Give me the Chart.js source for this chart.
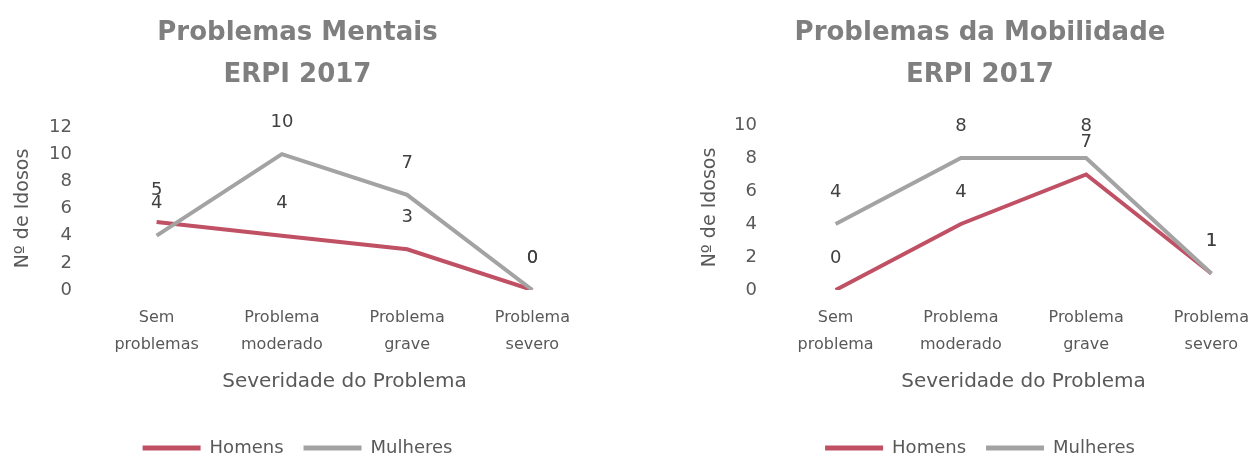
<!DOCTYPE html>
<html>
<head>
<meta charset="utf-8">
<script src="https://cdn.jsdelivr.net/npm/chart.js@4.4.1/dist/chart.umd.min.js"></script>
<style>
  html, body { margin: 0; padding: 0; background: #fff; }
  body { position: relative; width: 1255px; height: 457px; overflow: hidden; }
  canvas { position: absolute; top: 0; }
</style>
</head>
<body>
<canvas id="mentais" width="620" height="467" style="left:0px"></canvas>
<canvas id="mobilidade" width="620" height="467" style="left:686px"></canvas>
<script>
// Categorias (cada rótulo em duas linhas)
const categoriasMentais = [['Sem', 'problemas'], ['Problema', 'moderado'], ['Problema', 'grave'], ['Problema', 'severo']];
const categoriasMobilidade = [['Sem', 'problema'], ['Problema', 'moderado'], ['Problema', 'grave'], ['Problema', 'severo']];

// Número de idosos por severidade
const homensMentais = [5, 4, 3, 0];
const mulheresMentais = [4, 10, 7, 0];
const homensMobilidade = [0, 4, 7, 1];
const mulheresMobilidade = [4, 8, 8, 1];

// Eixo Y
const yMaxMentais = 12;
const yMaxMobilidade = 10;
const yPasso = 2;

const tituloMentais = ['Problemas Mentais', 'ERPI 2017'];
const tituloMobilidade = ['Problemas da Mobilidade', 'ERPI 2017'];
const tituloEixoX = 'Severidade do Problema';
const tituloEixoY = 'Nº de Idosos';
const nomesSeries = ['Homens', 'Mulheres'];

const COR_HOMENS = '#c05064';
const COR_MULHERES = '#a3a3a3';
const COR_TEXTO = '#595959';

Chart.defaults.font.family = "'DejaVu Sans', sans-serif";
Chart.defaults.color = COR_TEXTO;

// Escreve o valor de cada ponto por cima da linha
const rotulosValores = {
  id: 'rotulosValores',
  afterDatasetsDraw(chart) {
    const ctx = chart.ctx;
    ctx.save();
    ctx.font = "18px 'DejaVu Sans', sans-serif";
    ctx.fillStyle = '#404040';
    ctx.textAlign = 'center';
    ctx.textBaseline = 'middle';
    chart.data.datasets.forEach((ds, i) => {
      const meta = chart.getDatasetMeta(i);
      meta.data.forEach((pt, j) => {
        ctx.fillText(String(ds.data[j]), pt.x, pt.y - 32);
      });
    });
    ctx.restore();
  }
};

function criarGrafico(id, titulo, categorias, homens, mulheres, yMax, lay) {
  return new Chart(document.getElementById(id), {
    type: 'line',
    data: {
      labels: categorias,
      datasets: [
        { label: nomesSeries[0], data: homens, borderColor: COR_HOMENS, backgroundColor: COR_HOMENS,
          borderWidth: 4, pointRadius: 0, tension: 0, order: 1 },
        { label: nomesSeries[1], data: mulheres, borderColor: COR_MULHERES, backgroundColor: COR_MULHERES,
          borderWidth: 4, pointRadius: 0, tension: 0, order: 0 }
      ]
    },
    options: {
      responsive: false,
      animation: false,
      devicePixelRatio: 1,
      layout: { padding: { left: 0, right: lay.padRight, top: 0, bottom: 0 } },
      plugins: {
        tooltip: { enabled: false },
        title: {
          display: true,
          text: titulo,
          color: '#7f7f7f',
          font: { size: 26, weight: 'bold', lineHeight: 42 / 26 },
          padding: { top: 12, bottom: lay.titlePadBottom }
        },
        legend: {
          position: 'bottom',
          labels: {
            color: COR_TEXTO,
            font: { size: 18 },
            boxWidth: 58,
            boxHeight: 5,
            padding: 20,
            generateLabels(chart) {
              return chart.data.datasets.map((ds, i) => ({
                text: ds.label,
                fillStyle: ds.borderColor,
                strokeStyle: ds.borderColor,
                lineWidth: 0,
                fontColor: COR_TEXTO,
                datasetIndex: i,
                hidden: false
              }));
            }
          }
        }
      },
      scales: {
        x: {
          offset: true,
          grid: { display: false, drawTicks: false },
          border: { display: false },
          ticks: { color: COR_TEXTO, font: { size: 16, lineHeight: 27 / 16 }, padding: 14.5, maxRotation: 0, autoSkip: false },
          title: { display: true, text: tituloEixoX, color: COR_TEXTO, font: { size: 20, lineHeight: 1.2 }, padding: { top: 0, bottom: 25 } },
          afterFit(scale) { scale.height = 129; }
        },
        y: {
          min: 0,
          max: yMax,
          grid: { display: false, drawTicks: false },
          border: { display: false },
          ticks: { stepSize: yPasso, color: COR_TEXTO, font: { size: 18 }, padding: lay.tickPad },
          title: { display: true, text: tituloEixoY, color: COR_TEXTO, font: { size: 19, lineHeight: 1.2 }, padding: { top: lay.yTitlePad, bottom: 0 } },
          afterFit(scale) { scale.width = lay.axisWidth; }
        }
      }
    },
    plugins: [rotulosValores]
  });
}

criarGrafico('mentais', tituloMentais, categoriasMentais, homensMentais, mulheresMentais, yMaxMentais,
  { padRight: 25, titlePadBottom: 31, axisWidth: 94, tickPad: 22, yTitlePad: 12 });
criarGrafico('mobilidade', tituloMobilidade, categoriasMobilidade, homensMobilidade, mulheresMobilidade, yMaxMobilidade,
  { padRight: 32, titlePadBottom: 29, axisWidth: 87, tickPad: 16, yTitlePad: 13 });
</script>
</body>
</html>
